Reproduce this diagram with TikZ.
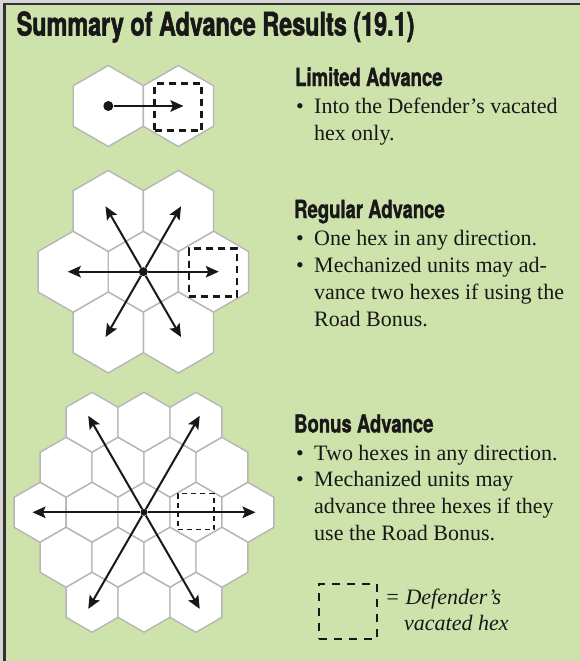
\documentclass[tikz,border=0pt]{standalone}
\usepackage{fontspec}
\setmainfont{Liberation Serif}
\newfontfamily\headfont[FakeStretch=0.72,BoldFeatures={FakeBold=1.6}]{TeX Gyre Heros}
\newfontfamily\subheadfont[FakeStretch=0.74,BoldFeatures={FakeBold=1.2}]{TeX Gyre Heros}
\usetikzlibrary{arrows.meta}

\definecolor{panelgreen}{RGB}{206,226,172}
\definecolor{hexgray}{RGB}{182,182,182}
\definecolor{ink}{RGB}{24,24,24}
\definecolor{rimlight}{RGB}{214,214,214}
\definecolor{rimdark}{RGB}{50,50,50}

% pointy-topped hex cell: centre x, centre y, corner radius
\newcommand\hexcellat[3]{%
  \path[hexcell] ({#1},{#2}) +(30:#3) -- +(90:#3) -- +(150:#3) -- +(210:#3)
    -- +(270:#3) -- +(330:#3) -- cycle;}

\begin{document}
\begin{tikzpicture}[x=1pt,y=-1pt,
  hexcell/.style={fill=white,draw=hexgray,line width=1.4pt,line join=miter},
  advarrow/.style={draw=ink,line width=2pt,
    -{Stealth[length=13pt,width=11.5pt,inset=2.5pt]}},
  unitdot/.style={circle,fill=ink,inner sep=0pt,minimum size=#1},
  vacated/.style={draw=ink,line width=2.1pt,dash pattern=on 7pt off 5pt,
    inner sep=0pt,minimum size=#1},
  heading/.style={anchor=base west,inner sep=0pt,text=ink,
    font=\subheadfont\bfseries\fontsize{25}{30}\selectfont},
  bodyline/.style={anchor=base west,inner sep=0pt,text=ink,
    font=\fontsize{22}{27}\selectfont},
  titletext/.style={anchor=base west,inner sep=0pt,text=ink,
    font=\headfont\bfseries\fontsize{32.5}{38}\selectfont}]

% panel and its rim
\useasboundingbox (0,0) rectangle (580,661);
\fill[rimlight] (0,0) rectangle (580,661);
\fill[panelgreen] (5,5) rectangle (580,661);
\draw[rimdark,line width=2pt] (3.5,4) -- (580,4);
\draw[rimdark,line width=2.5pt] (4.5,3) -- (4.5,661);

\node[titletext] (title) at (16.5,35.5) {Summary of Advance Results (19.1)};

% ---------- Limited advance ----------
\hexcellat{108.3}{106}{40.5}
\hexcellat{178.4}{106}{40.5}
\node[vacated=47pt] (lv) at (178,107) {};
\node[unitdot=10pt] (ld) at (108.3,106) {};
\coordinate (lt) at (183.5,106);
\draw[advarrow] (ld) -- (lt);

\node[heading] (lh) at (295,86) {Limited Advance};
\node[bodyline] (lb1) at (296,113) {•};
\node[bodyline] (l1) at (314,113) {Into the Defender’s vacated};
\node[bodyline] (l2) at (314,140) {hex only.};

% ---------- Regular advance ----------
\begin{scope}[shift={(143.3,271.7)}]
  \hexcellat{0}{0}{40.5}
  \foreach \a in {0,60,...,300}
    \hexcellat{70.15*cos(\a)}{70.15*sin(\a)}{40.5}
  \node[vacated=48pt] (rv) at (70,0.8) {};
  \node[unitdot=9pt] (rd) at (0,0) {};
  \foreach \a in {0,60,...,300} {
    \coordinate (rt\a) at (\a:75.5);
    \draw[advarrow] (rd) -- (rt\a);
  }
\end{scope}

\node[heading] (rh) at (294,218) {Regular Advance};
\node[bodyline] (rb1) at (296,245) {•};
\node[bodyline] (r1) at (314,245) {One hex in any direction.};
\node[bodyline] (rb2) at (296,272) {•};
\node[bodyline] (r2) at (314,272) {Mechanized units may ad-};
\node[bodyline] (r3) at (314,299) {vance two hexes if using the};
\node[bodyline] (r4) at (314,326) {Road Bonus.};

% ---------- Bonus advance ----------
\foreach \j in {-2,...,2} {
  \pgfmathtruncatemacro\cellmax{4-abs(\j)}
  \foreach \i in {0,...,\cellmax} {
    \pgfmathsetmacro\hx{144+25.98*(2*\i-\cellmax)}
    \pgfmathsetmacro\hy{512.3+45*\j}
    \hexcellat{\hx}{\hy}{30}
  }
}
\node[vacated=36pt,line width=1.6pt,dash pattern=on 5pt off 4pt] (bv) at (196,511.5) {};
\begin{scope}[shift={(144,512.3)}]
  \node[unitdot=7pt] (bd) at (0,0) {};
  \foreach \a in {0,60,...,300} {
    \coordinate (bt\a) at (\a:111.5);
    \draw[advarrow] (bd) -- (bt\a);
  }
\end{scope}

\node[heading] (bh) at (294,432.5) {Bonus Advance};
\node[bodyline] (bb1) at (296,460) {•};
\node[bodyline] (b1) at (314,460) {Two hexes in any direction.};
\node[bodyline] (bb2) at (296,486.5) {•};
\node[bodyline] (b2) at (314,486.5) {Mechanized units may};
\node[bodyline] (b3) at (314,513) {advance three hexes if they};
\node[bodyline] (b4) at (314,540) {use the Road Bonus.};

% ---------- key ----------
\node[draw=ink,line width=2pt,dash pattern=on 8pt off 7pt,inner sep=0pt,
  minimum width=58pt,minimum height=55pt] (key) at (348,611.5) {};
\node[bodyline,font=\itshape\fontsize{22}{27}\selectfont] (k1) at (385,604) {= Defender’s};
\node[bodyline,font=\itshape\fontsize{22}{27}\selectfont] (k2) at (404,630.7) {vacated hex};
\end{tikzpicture}
\end{document}
